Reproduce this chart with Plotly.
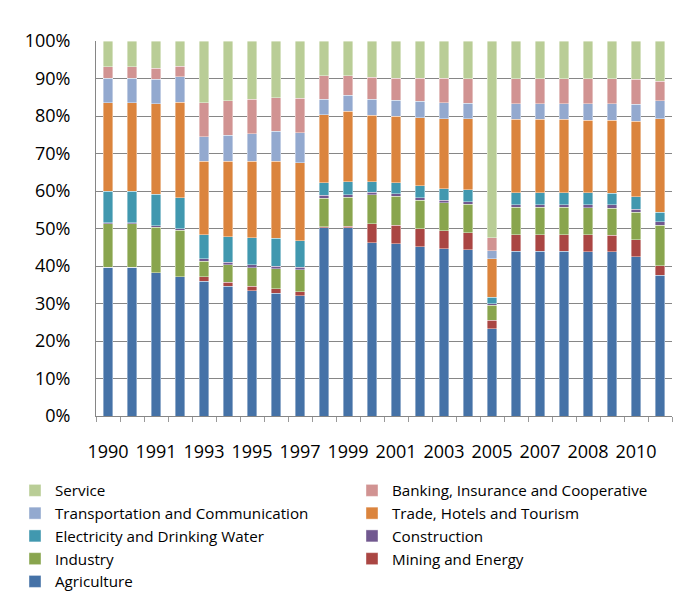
import plotly.graph_objects as go

years = ["1990", "1990", "1991", "1992", "1993", "1994", "1995", "1996", "1997", "1998",
         "1999", "2000", "2001", "2002", "2003", "2004", "2005", "2006", "2007", "2007",
         "2008", "2009", "2010", "2011"]

agriculture = [39.7, 39.7, 38.2, 37.1, 36.0, 34.6, 33.4, 32.8, 32.1, 50.2, 50.2, 46.2,
               46.0, 45.1, 44.6, 44.3, 23.3, 43.9, 43.9, 43.9, 43.8, 43.8, 42.5, 37.5]
mining = [0.0, 0.0, 0.0, 0.0, 1.1, 1.1, 1.2, 1.1, 1.1, 0.3, 0.4, 5.1,
          4.9, 4.9, 4.8, 4.6, 2.3, 4.5, 4.5, 4.5, 4.6, 4.4, 4.5, 2.6]
industry = [11.6, 11.6, 12.1, 12.4, 4.2, 4.7, 5.0, 5.4, 5.8, 7.6, 7.7, 7.7,
            7.7, 7.6, 7.5, 7.6, 4.0, 7.3, 7.3, 7.3, 7.1, 7.2, 7.4, 10.8]
construction = [0.3, 0.3, 0.5, 0.4, 0.7, 0.6, 0.7, 0.7, 0.7, 0.8, 0.7, 0.7,
                0.7, 0.6, 0.7, 0.7, 0.3, 0.7, 0.7, 0.7, 0.9, 0.9, 0.8, 0.9]
electricity = [8.3, 8.3, 8.3, 8.3, 6.3, 6.8, 7.3, 7.4, 7.0, 3.3, 3.5, 2.8,
               2.9, 3.2, 3.0, 3.2, 1.8, 3.1, 3.1, 3.1, 3.1, 3.1, 3.3, 2.5]
trade = [23.7, 23.7, 24.2, 25.5, 19.6, 20.1, 20.4, 20.5, 20.8, 18.2, 18.8, 17.7,
         17.8, 18.2, 18.7, 18.9, 10.2, 19.6, 19.6, 19.6, 19.4, 19.5, 20.1, 25.0]
transport = [6.5, 6.5, 6.5, 6.8, 6.6, 7.0, 7.3, 8.0, 8.1, 4.1, 4.3, 4.3,
             4.2, 4.4, 4.3, 4.1, 2.2, 4.2, 4.2, 4.2, 4.4, 4.4, 4.6, 4.8]
banking = [3.0, 3.0, 3.0, 2.8, 9.1, 9.2, 9.2, 9.0, 9.1, 6.3, 5.2, 5.9,
           5.9, 6.1, 6.5, 6.6, 3.5, 6.7, 6.7, 6.7, 6.7, 6.7, 6.6, 5.2]
service = [6.9, 6.9, 7.2, 6.7, 16.4, 15.9, 15.5, 15.1, 15.3, 9.2, 9.2, 9.6,
           9.9, 9.9, 9.9, 10.0, 52.4, 10.0, 10.0, 10.0, 10.0, 10.0, 10.2, 10.7]

series = [
    ("Agriculture", agriculture, "#4572A7"),
    ("Mining and Energy", mining, "#AA4643"),
    ("Industry", industry, "#89A54E"),
    ("Construction", construction, "#71588F"),
    ("Electricity and Drinking Water", electricity, "#4198AF"),
    ("Trade, Hotels and Tourism", trade, "#DB843D"),
    ("Transportation and Communication", transport, "#93A9CF"),
    ("Banking, Insurance and Cooperative", banking, "#D19392"),
    ("Service", service, "#B9CD96"),
]

x = list(range(len(years)))
tick_pos = x[::2]
tick_text = years[::2]

fig = go.Figure()
for name, vals, color in series:
    fig.add_trace(go.Bar(
        x=x, y=vals, name=name,
        marker=dict(color=color, line=dict(color="rgba(255,255,255,0.5)", width=0.8)),
    ))

font_family = "Open Sans"
fig.update_layout(
    width=681, height=594,
    margin=dict(l=96, r=9, t=41, b=178, autoexpand=False),
    paper_bgcolor="white", plot_bgcolor="white",
    barmode="stack", bargap=0.6,
    font=dict(family=font_family, color="black"),
    showlegend=True,
    legend=dict(
        orientation="h", traceorder="reversed",
        x=(15 - 96) / 576, xanchor="left",
        y=(416 - 474) / 375, yanchor="top",
        entrywidth=292, entrywidthmode="pixels",
        font=dict(family=font_family, size=15.2, color="black"),
        bgcolor="rgba(0,0,0,0)",
    ),
    xaxis=dict(
        range=[-0.5, len(years) - 0.5],
        tickmode="array", tickvals=tick_pos, ticktext=tick_text,
        ticks="outside", ticklen=19, tickcolor="rgba(0,0,0,0)",
        showgrid=False, zeroline=False,
        showline=True, linecolor="#868686", linewidth=1,
        tickfont=dict(family=font_family, size=18, color="black"),
        minor=dict(tickmode="linear", tick0=-0.5, dtick=1, ticks="outside",
                   ticklen=5, tickcolor="#9a9a9a", showgrid=False),
    ),
    yaxis=dict(
        range=[0, 100], dtick=10, ticksuffix="%",
        showgrid=True, gridcolor="#868686", gridwidth=1,
        zeroline=False, showline=True, linecolor="#868686", linewidth=1,
        ticks="outside", ticklen=21, tickcolor="rgba(0,0,0,0)",
        tickfont=dict(family=font_family, size=18, color="black"),
    ),
)

fig.write_html("out.html", config={"displayModeBar": False},
               post_script="document.body.style.margin='0';")
